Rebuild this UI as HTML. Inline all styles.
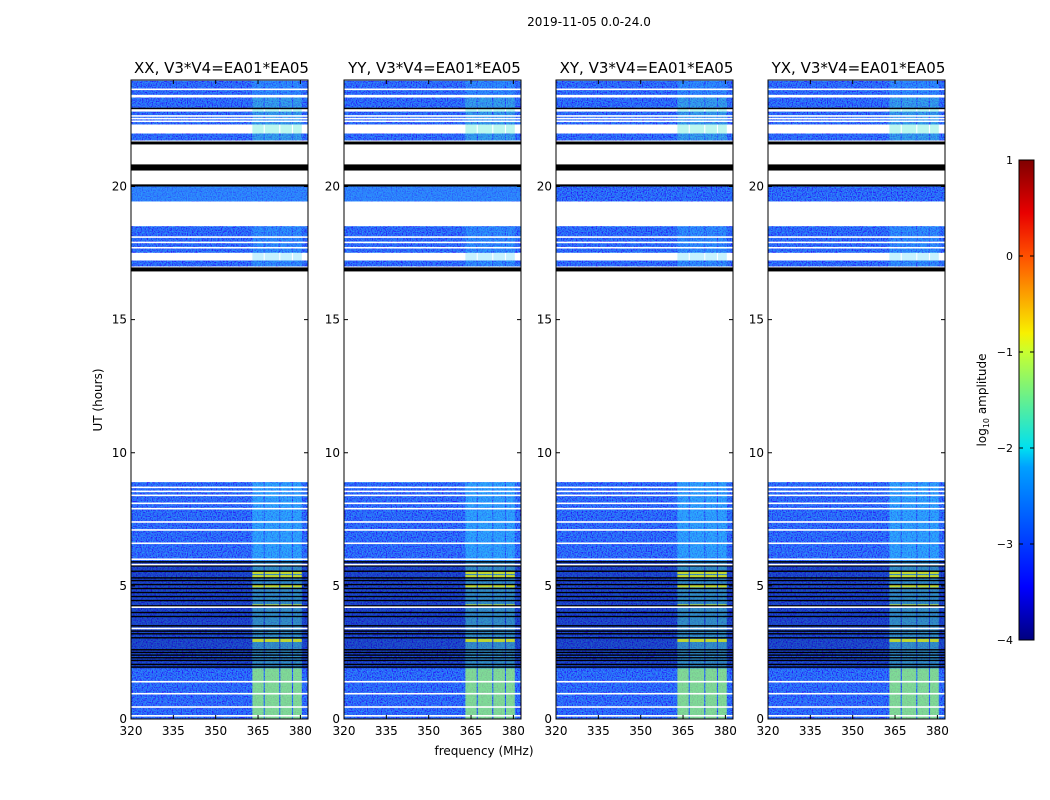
<!DOCTYPE html>
<html><head><meta charset="utf-8"><style>
body{margin:0;background:#fff;}
svg{display:block;font-family:"DejaVu Sans","Liberation Sans",sans-serif;}
</style></head><body>
<svg id="fig" width="1050" height="800" viewBox="0 0 1050 800">
<defs>
<filter id="noise" x="0" y="0" width="100%" height="100%">
<feTurbulence type="fractalNoise" baseFrequency="0.8" numOctaves="1" seed="3"/>
<feColorMatrix type="matrix" values="0 0 0 0 0.04  1.6 0 0 0 -0.55  0 0 0 0 1  0 0 0 0 1"/>
</filter>
<linearGradient id="jet" x1="0" y1="1" x2="0" y2="0">
<stop offset="0" stop-color="#00007f"/><stop offset="0.11" stop-color="#0000ff"/>
<stop offset="0.36" stop-color="#00a0ff"/><stop offset="0.4" stop-color="#00e0f0"/>
<stop offset="0.6" stop-color="#c8ff30"/><stop offset="0.64" stop-color="#f8f000"/>
<stop offset="0.8" stop-color="#ff5000"/><stop offset="0.89" stop-color="#e80000"/>
<stop offset="1" stop-color="#7f0000"/>
</linearGradient>
</defs>
<text x="589" y="26" font-size="12" text-anchor="middle">2019-11-05 0.0-24.0</text>
<text x="484" y="755" font-size="12" text-anchor="middle">frequency (MHz)</text>
<text transform="translate(102,400) rotate(-90)" font-size="12" text-anchor="middle">UT (hours)</text>
<g id="panels"></g>
<g id="cbar"></g>
</svg>
<script>
const panelTitles = ["XX, V3*V4=EA01*EA05","YY, V3*V4=EA01*EA05","XY, V3*V4=EA01*EA05","YX, V3*V4=EA01*EA05"];
const xTicks = [320,335,350,365,380];
const yTicks = [0,5,10,15,20];
const cbTicks = [-4,-3,-2,-1,0,1];
const dataSegs = [[23.45,24],[22.96,23.34],[22.33,22.81],[21.73,21.99],[19.44,20.0],[17.52,18.5],[17.0,17.22],[0,8.89]];
const blackSegs = [[22.93,22.96],[21.58,21.69],[20.6,20.83],[20.0,20.08],[16.81,16.96],[5.88,5.93]];
const dimSeg = [1.9,5.9];
const blackLines = [1.95,2.05,2.2,2.3,2.4,2.5,2.6,3.05,3.2,3.3,3.5,3.85,4.0,4.25,4.45,4.6,4.75,4.9,5.05,5.2,5.3,5.55,5.75];
const whiteLines = [0.12,0.45,0.95,1.4,3.4,4.2,5.8,6.0,6.6,7.1,7.4,7.9,8.1,8.4,8.55,8.7,17.7,17.9,18.1,18.6,22.45,22.55,22.65,23.65,24.0];
const bandFreqs = [[363,367],[367.4,372.5],[372.9,377],[377.4,380.5]];
const bandLevels = [[0,1.9,"#a0ff70",0.72],[1.9,5.9,"#50f0c0",0.4],[5.9,8.89,"#30e0ff",0.42],[17.0,18.5,"#30d0ff",0.28],[21.73,23.34,"#40e8d0",0.35],[23.45,24,"#30c8ff",0.28]];
const yellowRows = [2.95,4.25,5.0,5.35,5.5];
const lightSeg = [19.44,20.0];

const panelX = [131,344,556,768], PW=177, PT=80, PB=719;
const fmin=320, fmax=382.7, hmax=24;
function xs(px,f){return px+(f-fmin)/(fmax-fmin)*PW;}
function ys(h){return PB-(h/hmax)*(PB-PT);}
const NS="http://www.w3.org/2000/svg";
function mk(tag,attrs,parent){const e=document.createElementNS(NS,tag);for(const k in attrs)e.setAttribute(k,attrs[k]);parent.appendChild(e);return e;}
const panels=document.getElementById('panels');
panelX.forEach((px,i)=>{
  const g=mk('g',{},panels);
  
  
  const t=mk('text',{x:px+PW/2+2,y:73,'font-size':15,'text-anchor':'middle'},g);t.textContent=panelTitles[i];
  
  
  const clip=mk('clipPath',{id:'c'+i},g);mk('rect',{x:px,y:PT,width:PW,height:PB-PT},clip);
  const body=mk('g',{'clip-path':'url(#c'+i+')'},g);
  dataSegs.forEach(s=>{
    const y0=ys(s[1]),y1=ys(s[0]);
    const r=mk('rect',{x:px,y:y0,width:PW,height:y1-y0,fill:'#1440ee'},body);
    
    
    mk('rect',{x:px,y:y0,width:PW,height:y1-y0,filter:'url(#noise)',opacity:0.6},body);
  });
  if(i<2) mk('rect',{x:px,y:ys(lightSeg[1]),width:PW,height:ys(lightSeg[0])-ys(lightSeg[1]),fill:'#30a0ff',opacity:0.45},body);
  mk('rect',{x:px,y:ys(dimSeg[1]),width:PW,height:ys(dimSeg[0])-ys(dimSeg[1]),fill:'#000070',opacity:0.35},body);
  bandLevels.forEach(b=>{
    bandFreqs.forEach(f=>{
      const r=mk('rect',{x:xs(px,f[0]),y:ys(b[1]),width:xs(px,f[1])-xs(px,f[0]),height:ys(b[0])-ys(b[1]),fill:b[2],opacity:b[3]},body);
      
      
    });
  });
  yellowRows.forEach(h=>{
    bandFreqs.forEach(f=>{mk('rect',{x:xs(px,f[0]),y:ys(h)-1.5,width:xs(px,f[1])-xs(px,f[0]),height:3,fill:'#f0f000',opacity:0.75},body);});
  });
  blackLines.forEach(h=>mk('rect',{x:px,y:ys(h)-0.7,width:PW,height:1.4,fill:'#000'},body));
  whiteLines.forEach(h=>mk('rect',{x:px,y:ys(h)-0.8,width:PW,height:1.6,fill:'#fff'},body));
  blackSegs.forEach(s=>mk('rect',{x:px,y:ys(s[1]),width:PW,height:Math.max(1.5,ys(s[0])-ys(s[1])),fill:'#000'},body));
  const fr=mk('rect',{x:px,y:PT,width:PW,height:PB-PT,fill:'none',stroke:'#000','stroke-width':1},g);
  
  
  xTicks.forEach(v=>{
    const x=xs(px,v);
    mk('line',{x1:x,x2:x,y1:PB,y2:PB-4,stroke:'#000'},g);
    mk('line',{x1:x,x2:x,y1:PT,y2:PT+4,stroke:'#000'},g);
    const l=mk('text',{x:x,y:PB+16,'font-size':12,'text-anchor':'middle'},g);l.textContent=v;
    
    
  });
  yTicks.forEach(v=>{
    const y=ys(v);
    mk('line',{x1:px,x2:px+4,y1:y,y2:y,stroke:'#000'},g);
    mk('line',{x1:px+PW,x2:px+PW-4,y1:y,y2:y,stroke:'#000'},g);
    const l=mk('text',{x:px-4,y:y+4,'font-size':12,'text-anchor':'end'},g);l.textContent=v;
    
    
  });
});
const cb=document.getElementById('cbar');
const CX=1019,CW=15,CT=160,CB=640;
function cy(v){return CB-(v-cbTicks[0])/(cbTicks[cbTicks.length-1]-cbTicks[0])*(CB-CT);}
mk('rect',{x:CX,y:CT,width:CW,height:CB-CT,fill:'url(#jet)',stroke:'#000'},cb);
cbTicks.forEach(v=>{
  const y=cy(v);
  mk('line',{x1:CX,x2:CX+4,y1:y,y2:y,stroke:'#000'},cb);
  mk('line',{x1:CX+CW,x2:CX+CW-4,y1:y,y2:y,stroke:'#000'},cb);
  const l=mk('text',{x:1013,y:y+4,'font-size':11,'text-anchor':'end'},cb);l.textContent=(v<0?'\u2212'+(-v):v);
  
  
});
const ct=mk('text',{transform:'translate(986,400) rotate(-90)','font-size':12,'text-anchor':'middle'},cb);
ct.innerHTML='log<tspan font-size="8" dy="3">10</tspan><tspan dy="-3"> amplitude</tspan>';


</script>
</body></html>
